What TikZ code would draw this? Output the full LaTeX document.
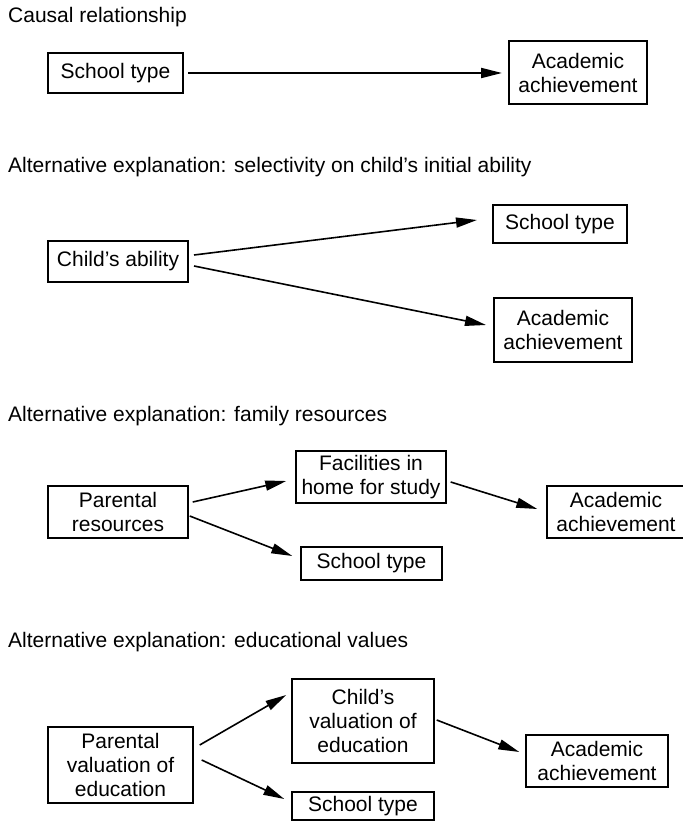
\documentclass[tikz,border=0pt]{standalone}
\usepackage{fontspec}
\setmainfont{Liberation Sans}
\usetikzlibrary{arrows.meta}

\begin{document}
\begin{tikzpicture}[x=1pt, y=-1pt,
    every node/.style={font=\fontsize{21}{24}\selectfont},
    box/.style={draw, line width=2pt, inner sep=0pt, align=center},
    thinbox/.style={box, line width=1.4pt},
    arr/.style={line width=1.6pt, -{Triangle[length=21pt, width=10pt]}},
    title/.style={anchor=base west, inner sep=0pt}]
    \useasboundingbox (0,0) rectangle (682,821);

    \node[title] (t1) at (8,22.5) {Causal relationship};
    \node[box, minimum width=135pt, minimum height=40pt] (school1) at (115.5,73) {School type};
    \node[box, minimum width=138pt, minimum height=63pt] (achieve1) at (578,73) {Academic\\achievement};
    \draw[arr, line width=2pt] ([xshift=4pt]school1.east) -- ([xshift=-6pt]achieve1.west);

    \node[title] (t2) at (8,173) {Alternative explanation: selectivity on child’s initial ability};
    \node[box, minimum width=140pt, minimum height=41pt] (ability) at (118,261.5) {Child’s ability};
    \node[box, minimum width=134pt, minimum height=38pt] (school2) at (560,224) {School type};
    \node[box, minimum width=138pt, minimum height=64pt] (achieve2) at (563,330) {Academic\\achievement};
    \draw[arr] ([xshift=5pt, yshift=6.5pt]ability.east) -- ([xshift=-15pt, yshift=4pt]school2.west);
    \draw[arr] ([xshift=5pt, yshift=-4.5pt]ability.east) -- ([xshift=-7pt, yshift=5pt]achieve2.west);

    \node[title] (t3) at (8,421) {Alternative explanation: family resources};
    \node[thinbox, minimum width=140pt, minimum height=52pt] (parres) at (118,512) {Parental\\resources};
    \node[thinbox, minimum width=150pt, minimum height=52pt] (facil) at (371,477) {Facilities in\\home for study};
    \node[thinbox, minimum width=138pt, minimum height=52pt] (achieve3) at (616,512) {Academic\\achievement};
    \node[thinbox, minimum width=141pt, minimum height=33pt] (school3) at (371.5,563.5) {School type};
    \draw[arr] ([xshift=4pt, yshift=10pt]parres.east) -- ([xshift=-9pt, yshift=-4pt]facil.west);
    \draw[arr] ([xshift=1pt, yshift=-4pt]parres.east) -- ([xshift=-8pt, yshift=7.5pt]school3.west);
    \draw[arr] ([xshift=4pt, yshift=-5pt]facil.east) -- ([xshift=-9pt, yshift=3pt]achieve3.west);

    \node[title] (t4) at (8,647) {Alternative explanation: educational values};
    \node[thinbox, minimum width=145pt, minimum height=76pt] (parval) at (120.5,765) {Parental\\valuation of\\education};
    \node[thinbox, minimum width=142pt, minimum height=84pt] (childval) at (363,721) {Child’s\\valuation of\\education};
    \node[thinbox, minimum width=142pt, minimum height=52pt] (achieve4) at (597,761) {Academic\\achievement};
    \node[thinbox, minimum width=142pt, minimum height=28pt] (school4) at (363,806) {School type};
    \draw[arr] ([xshift=6pt, yshift=20pt]parval.east) -- ([xshift=-5pt, yshift=26pt]childval.west);
    \draw[arr] ([xshift=8pt, yshift=5pt]parval.east) -- ([xshift=-7pt, yshift=7pt]school4.west);
    \draw[arr] ([xshift=2pt, yshift=1pt]childval.east) -- ([xshift=-6pt, yshift=9pt]achieve4.west);
\end{tikzpicture}
\end{document}
